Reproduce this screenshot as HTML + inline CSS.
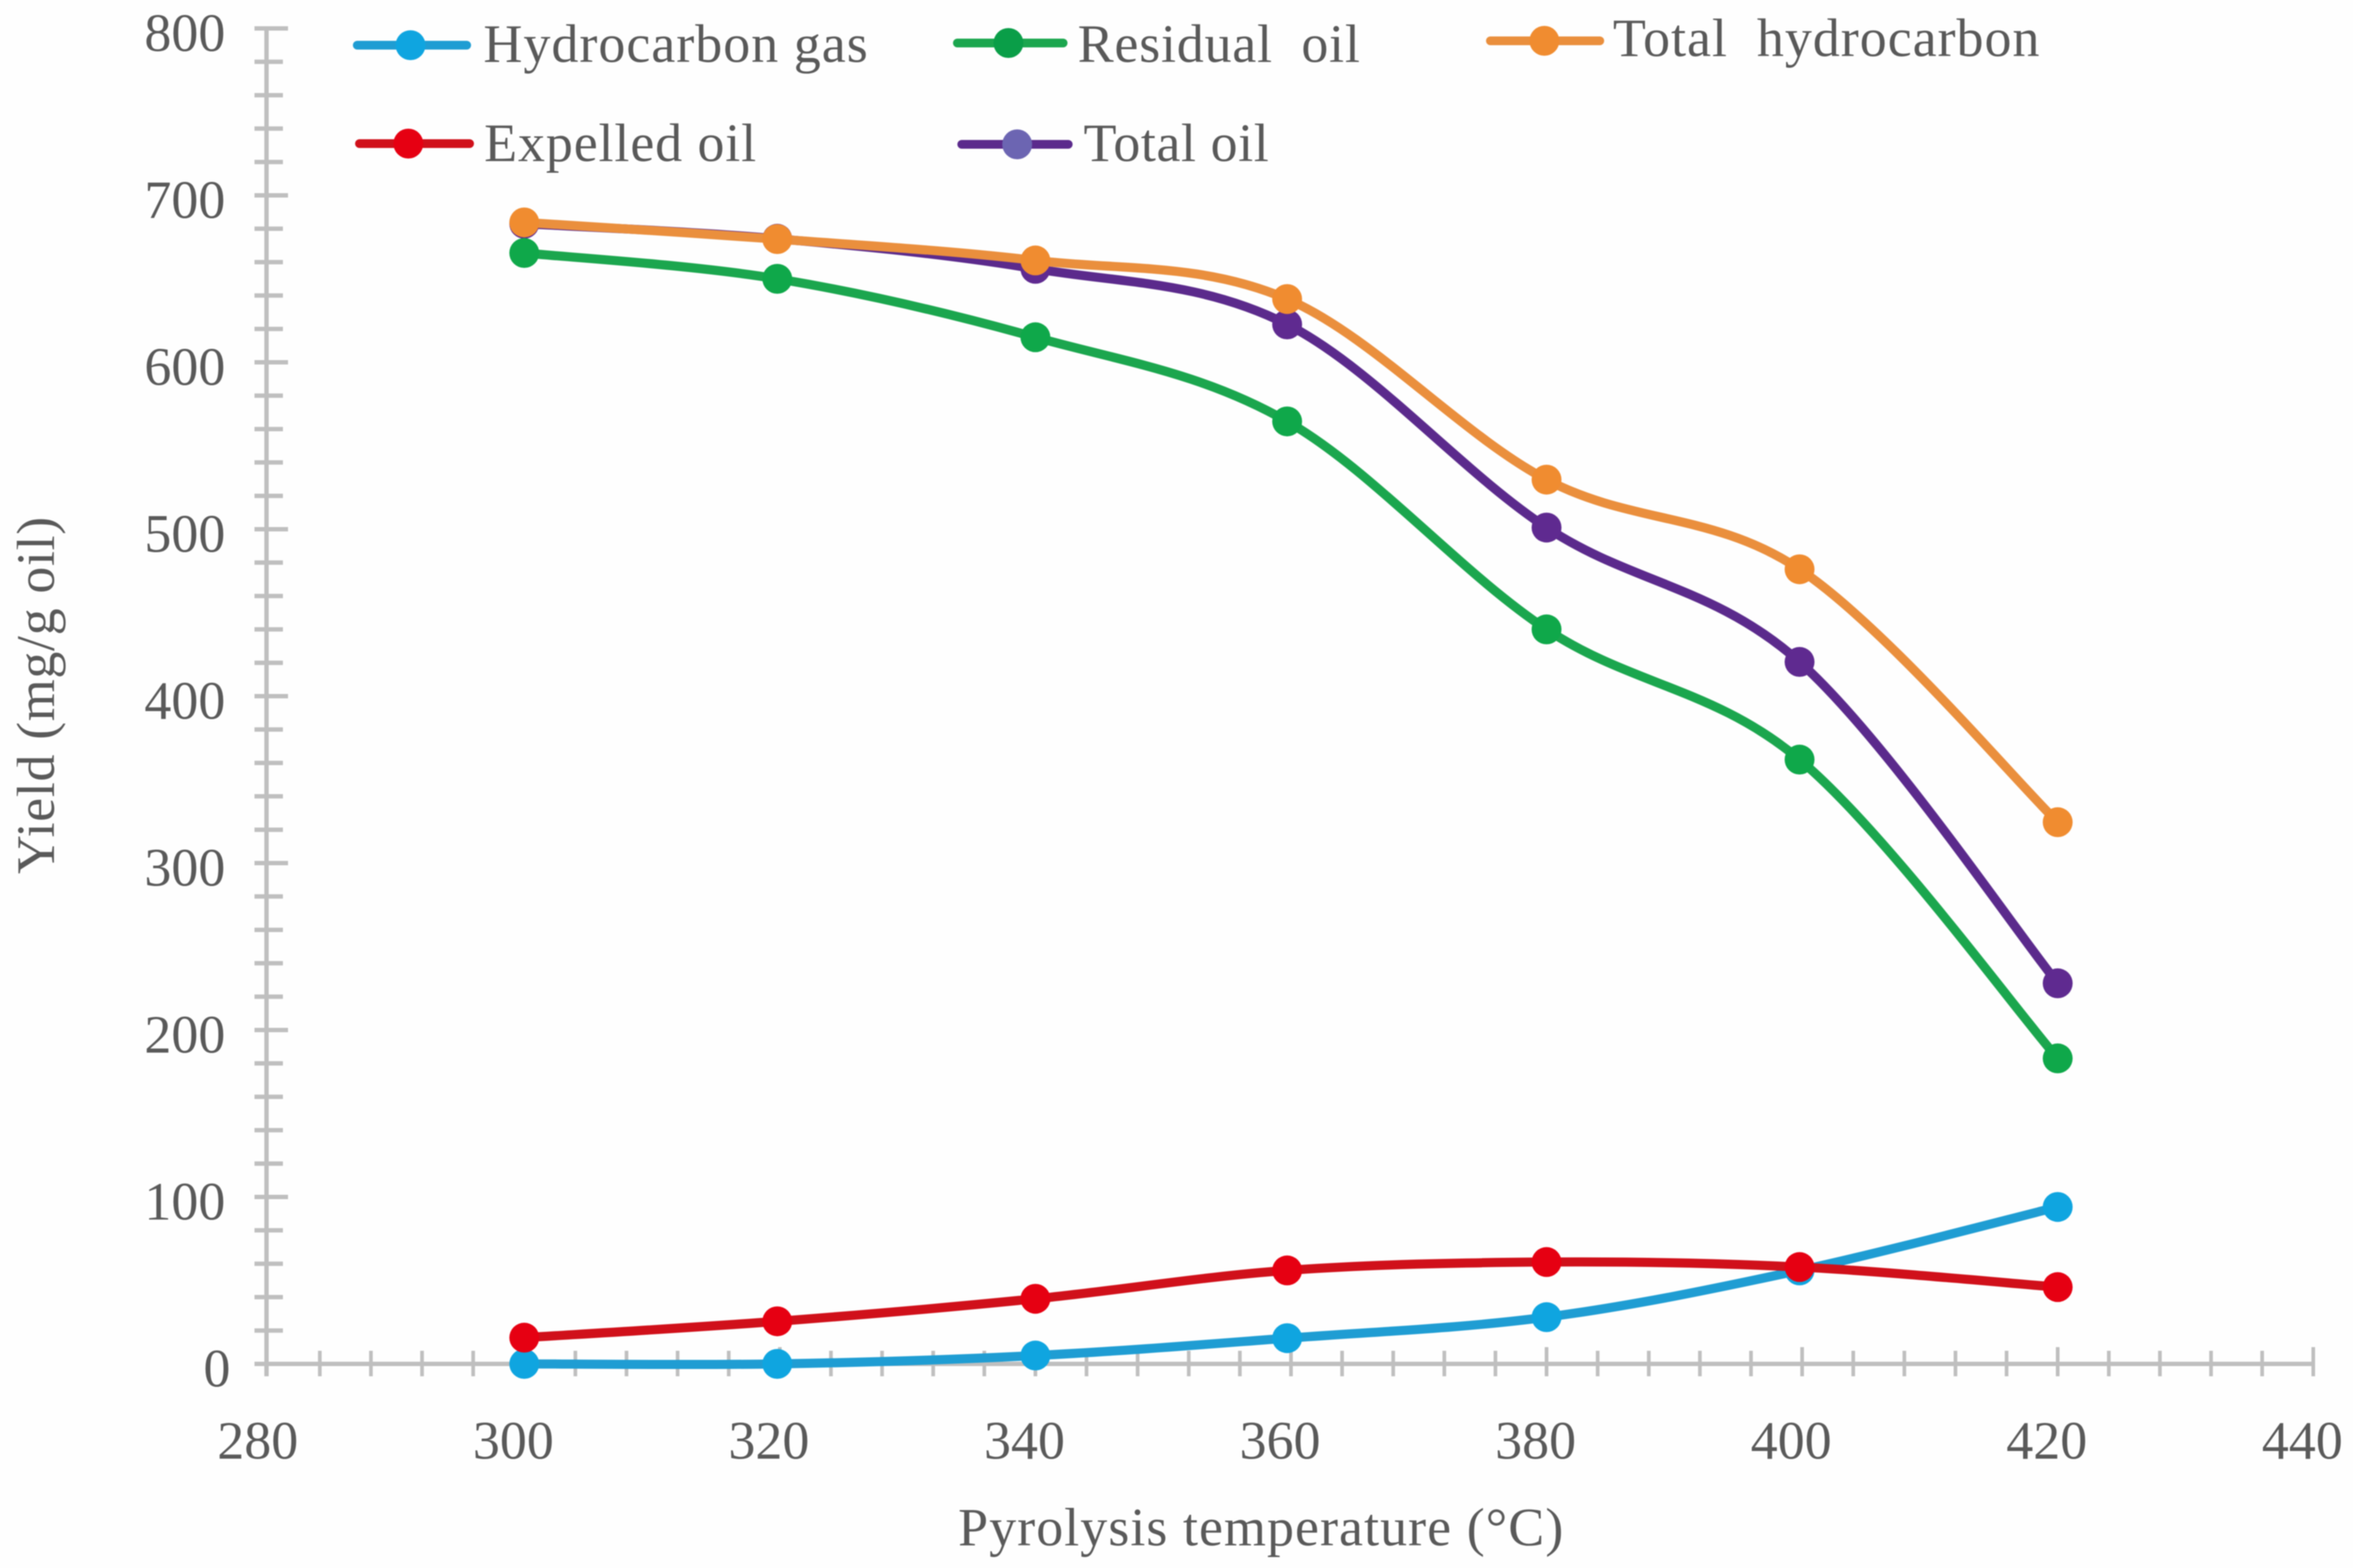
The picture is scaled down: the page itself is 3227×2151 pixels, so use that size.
<!DOCTYPE html>
<html lang="en">
<head>
<meta charset="utf-8">
<title>Yield vs pyrolysis temperature</title>
<style>
html,body{margin:0;padding:0;background:#fefefe;}
svg{display:block;filter:blur(0.9px);}
text{font-family:"Liberation Serif",serif;fill:#595959;}
.tick-label,.legend-label,.axis-title{font-size:74px;}
</style>
</head>
<body>
<svg id="chart" xmlns="http://www.w3.org/2000/svg" width="3227" height="2151" viewBox="0 0 3227 2151">
  <rect x="0" y="0" width="3227" height="2151" fill="#fefefe"/>
  <g id="axes"></g>
  <g id="series"></g>

  <text class="axis-title" transform="translate(74,1199) rotate(-90)" textLength="490" lengthAdjust="spacing">Yield (mg/g oil)</text>
  <rect x="0" y="680" width="23" height="540" fill="#fefefe"/>
  <text class="axis-title" x="1314" y="2120" textLength="830" lengthAdjust="spacing">Pyrolysis temperature (°C)</text>

  <g>
    <g>
      <line x1="490" y1="62" x2="640" y2="62" stroke="#1f9dd3" stroke-width="12" stroke-linecap="round"/>
      <circle cx="563" cy="62" r="20.5" fill="#0fa5e0"/>
      <text class="legend-label" x="663" y="85" textLength="527" lengthAdjust="spacing">Hydrocarbon gas</text>
    </g>
    <g>
      <line x1="493" y1="197" x2="644" y2="197" stroke="#d0101a" stroke-width="12" stroke-linecap="round"/>
      <circle cx="560" cy="197" r="20.5" fill="#e60012"/>
      <text class="legend-label" x="664" y="221" textLength="373" lengthAdjust="spacing">Expelled oil</text>
    </g>
    <g>
      <line x1="1313" y1="59" x2="1458" y2="59" stroke="#1ba64e" stroke-width="12" stroke-linecap="round"/>
      <circle cx="1383" cy="59" r="20.5" fill="#0a9e48"/>
      <text class="legend-label" x="1478" y="85" textLength="387" lengthAdjust="spacing">Residual&#160;&#160;oil</text>
    </g>
    <g>
      <line x1="1319" y1="198" x2="1465" y2="198" stroke="#5b2a8c" stroke-width="12" stroke-linecap="round"/>
      <circle cx="1395" cy="198" r="20.5" fill="#6c65b2"/>
      <text class="legend-label" x="1486" y="221" textLength="254" lengthAdjust="spacing">Total oil</text>
    </g>
    <g>
      <line x1="2044" y1="56" x2="2194" y2="56" stroke="#ea8f3d" stroke-width="12" stroke-linecap="round"/>
      <circle cx="2118" cy="56" r="20.5" fill="#f08c30"/>
      <text class="legend-label" x="2212" y="77" textLength="585" lengthAdjust="spacing">Total&#160;&#160;hydrocarbon</text>
    </g>
  </g>
</svg>

<script>
// Chart data
var temperatures = [300, 319.8, 340, 359.7, 380, 399.8, 420];
var hydrocarbonGas = [0, 0, 5, 15.4, 28, 56, 94];
var expelledOil = [15.7, 25.5, 39, 56, 61, 58, 46];
var totalOil = [683, 674, 656, 622.7, 501, 420.5, 228];
var totalHydrocarbon = [683.8, 673.8, 661, 637.9, 529.7, 476, 324.5];
var residualOil = [665.5, 650, 615, 564.6, 440, 362, 183];
var xTickLabels = [280, 300, 320, 340, 360, 380, 400, 420, 440];
var yTickLabels = [0, 100, 200, 300, 400, 500, 600, 700, 800];

// Axis functions
function xScale(t) { return 719 + (t - 300) * 17.525; }
function yScale(v) { return 1871 - v * 2.29; }

var NS = 'http://www.w3.org/2000/svg';
var axesGroup = document.getElementById('axes');
var seriesGroup = document.getElementById('series');
var AXIS_COLOR = '#bfbfbf';

function make(tag, attrs, parent) {
  var node = document.createElementNS(NS, tag);
  for (var k in attrs) { node.setAttribute(k, attrs[k]); }
  parent.appendChild(node);
  return node;
}

var xMin = xTickLabels[0];
var xMax = xTickLabels[xTickLabels.length - 1];
var yMax = yTickLabels[yTickLabels.length - 1];
var yAxisX = xScale(xMin) - 3;

var yAxisLine = make('line', {x1: yAxisX, y1: yScale(yMax) - 2, x2: yAxisX, y2: yScale(0) + 17, stroke: AXIS_COLOR, 'stroke-width': 6}, axesGroup);



var xAxisLine = make('line', {x1: 349, y1: yScale(0), x2: xScale(xMax) + 2, y2: yScale(0), stroke: AXIS_COLOR, 'stroke-width': 6}, axesGroup);



// y ticks: major every 100, four minor between
for (var yv = 0; yv <= yMax; yv += 20) {
  var isMajorY = yv % 100 === 0;
  var yTick = make('line', {x1: 349, x2: isMajorY ? 395 : 388, y1: yScale(yv), y2: yScale(yv), stroke: AXIS_COLOR, 'stroke-width': 6}, axesGroup);
  
  
}

// x ticks: major every 20, four minor between
for (var xv = xMin + 4; xv <= xMax; xv += 4) {
  var isMajorX = (xv - xMin) % 20 === 0;
  var xTick = make('line', {x1: xScale(xv), x2: xScale(xv), y1: isMajorX ? 1848 : 1853, y2: 1888, stroke: AXIS_COLOR, 'stroke-width': 5}, axesGroup);
  
  
}

yTickLabels.forEach(function (v) {
  var yLabel = make('text', {'class': 'tick-label', x: v === 0 ? 316 : 309, y: yScale(v) + 31, 'text-anchor': 'end'}, axesGroup);
  
  
  yLabel.textContent = String(v);
});

xTickLabels.forEach(function (t) {
  var xLabel = make('text', {'class': 'tick-label', x: xScale(t) - 15, y: 2001, 'text-anchor': 'middle'}, axesGroup);
  
  
  xLabel.textContent = String(t);
});

// Smooth line through points (Catmull-Rom to Bezier)
function smoothPath(values) {
  var pts = values.map(function (v, i) { return [xScale(temperatures[i]), yScale(v)]; });
  var d = 'M' + pts[0][0] + ' ' + pts[0][1];
  for (var i = 0; i < pts.length - 1; i++) {
    var p0 = pts[Math.max(i - 1, 0)];
    var p1 = pts[i];
    var p2 = pts[i + 1];
    var p3 = pts[Math.min(i + 2, pts.length - 1)];
    d += ' C' + (p1[0] + (p2[0] - p0[0]) / 6) + ' ' + (p1[1] + (p2[1] - p0[1]) / 6) +
         ' ' + (p2[0] - (p3[0] - p1[0]) / 6) + ' ' + (p2[1] - (p3[1] - p1[1]) / 6) +
         ' ' + p2[0] + ' ' + p2[1];
  }
  return d;
}

function drawSeries(name, values, lineColor, markerColor) {
  var line = make('path', {d: smoothPath(values), fill: 'none', stroke: lineColor, 'stroke-width': 12.5, 'stroke-linejoin': 'round'}, seriesGroup);
  
  
  values.forEach(function (v, i) {
    var point = make('circle', {cx: xScale(temperatures[i]), cy: yScale(v), r: 20.5, fill: markerColor}, seriesGroup);
    
    
  });
}

drawSeries('hydrocarbon-gas', hydrocarbonGas, '#1f9dd3', '#0fa5e0');
drawSeries('expelled-oil', expelledOil, '#d0101a', '#e60012');
drawSeries('total-oil', totalOil, '#5b2a8c', '#5f2a90');
drawSeries('total-hydrocarbon', totalHydrocarbon, '#ea8f3d', '#f08c30');
drawSeries('residual-oil', residualOil, '#1ba64e', '#0fa84a');
</script>
</body>
</html>
